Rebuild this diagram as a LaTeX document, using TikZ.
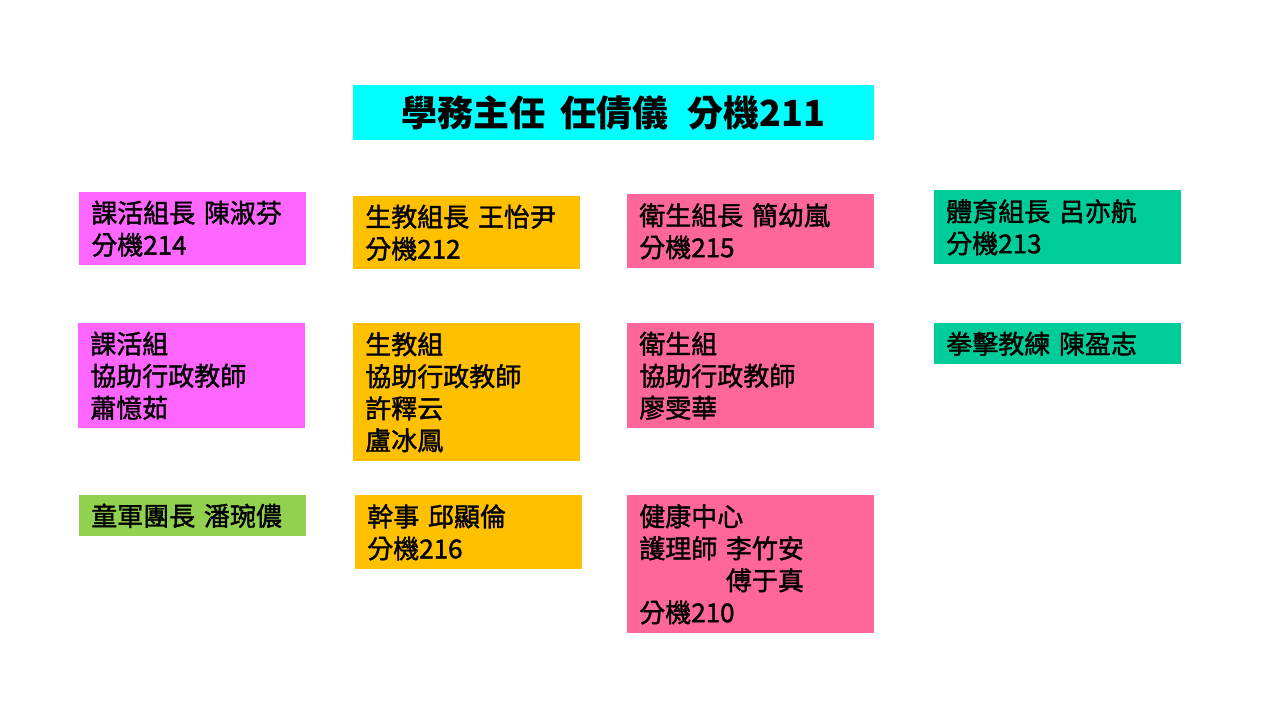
\documentclass[tikz,border=0pt]{standalone}
\usepackage{fontspec}
\setmainfont{Noto Sans CJK TC}
\newfontfamily\semibold[FakeBold=1.5]{Noto Sans CJK TC}
\definecolor{headcyan}{HTML}{00FFFF}
\definecolor{kemagenta}{HTML}{FF66FF}
\definecolor{shengorange}{HTML}{FFC000}
\definecolor{weipink}{HTML}{FF6699}
\definecolor{titeal}{HTML}{00CC99}
\definecolor{tonggreen}{HTML}{92D050}
\tikzset{
  cell/.style={anchor=north west, inner xsep=9pt, inner ysep=0pt, align=left,
    font=\semibold\fontsize{19.5}{24}\selectfont},
  wide/.style={text width=167.25pt},
  narrow/.style={text width=152pt}
}

\begin{document}
\begin{tikzpicture}[x=0.75pt,y=-0.75pt]
  \useasboundingbox (0,0) rectangle (1280,720);
  \node[anchor=north west, fill=headcyan, minimum width=390.75pt, minimum height=41.25pt,
    inner sep=0pt, font=\fontsize{27}{30}\selectfont\bfseries] (head) at (353,85)
    {學務主任\hspace{0.4em}任倩儀\hspace{0.55em}分機211};
  \begin{scope}[every node/.style={cell}]
    \node[narrow, fill=kemagenta, minimum height=54.75pt] (ke1) at (79,192) {課活組長 陳淑芬\\分機214};
    \node[narrow, fill=shengorange, minimum height=54.75pt] (sheng1) at (353,196) {生教組長 王怡尹\\分機212};
    \node[wide, fill=weipink, minimum height=55.5pt] (wei1) at (627,194) {衛生組長 簡幼嵐\\分機215};
    \node[wide, fill=titeal, minimum height=55.5pt] (ti1) at (934,190) {體育組長 呂亦航\\分機213};
    \node[narrow, fill=kemagenta, minimum height=78.75pt] (ke2) at (78,323) {課活組\\協助行政教師\\蕭憶茹};
    \node[narrow, fill=shengorange, minimum height=103.5pt] (sheng2) at (353,323) {生教組\\協助行政教師\\許釋云\\盧冰鳳};
    \node[wide, fill=weipink, minimum height=78.75pt] (wei2) at (627,323) {衛生組\\協助行政教師\\廖雯華};
    \node[wide, fill=titeal, minimum height=30.75pt] (ti2) at (934,323) {拳擊教練 陳盈志};
    \node[narrow, fill=tonggreen, minimum height=30.75pt] (tong) at (79,495) {童軍團長 潘琬儂};
    \node[narrow, fill=shengorange, minimum height=55.5pt] (gan) at (355,495) {幹事 邱顯倫\\分機216};
    \node[wide, fill=weipink, minimum height=103.5pt] (health) at (627,495) {健康中心\\護理師 李竹安\\\phantom{護理師 }傅于真\\分機210};
  \end{scope}
\end{tikzpicture}
\end{document}
